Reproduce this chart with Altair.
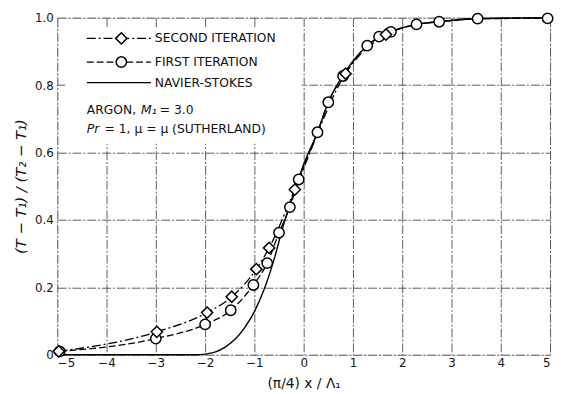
import altair as alt
import pandas as pd

# First iteration (circles)
first_x = [-4.95, -3.0, -2.0, -1.48, -1.02, -0.74, -0.5, -0.28, -0.1, 0.28, 0.5, 0.8, 1.29, 1.53, 1.77, 2.29, 2.75, 3.53, 4.95]
first_y = [0.01, 0.048, 0.09, 0.132, 0.207, 0.272, 0.362, 0.438, 0.52, 0.66, 0.749, 0.827, 0.917, 0.944, 0.958, 0.98, 0.988, 0.997, 0.998]

# Second iteration (diamonds)
second_x = [-4.97, -2.98, -1.96, -1.46, -0.96, -0.7, -0.18, 0.85, 1.67]
second_y = [0.01, 0.068, 0.125, 0.172, 0.254, 0.317, 0.49, 0.834, 0.95]
# continuation of the second-iteration curve beyond the last diamond
second_tail_x = [2.29, 2.75, 3.53, 5.0]
second_tail_y = [0.98, 0.988, 0.997, 1.0]

# Navier-Stokes solution (solid curve)
ns_x = [-5.0, -2.2, -2.0, -1.8, -1.6, -1.4, -1.2, -1.0, -0.8, -0.6, -0.4, -0.2, 0.0, 0.28, 0.5, 0.8, 1.29, 1.77, 2.29, 2.75, 3.5, 5.0]
ns_y = [0.0, 0.0, 0.002, 0.008, 0.022, 0.045, 0.08, 0.128, 0.195, 0.283, 0.39, 0.48, 0.565, 0.66, 0.749, 0.83, 0.917, 0.958, 0.98, 0.988, 0.997, 1.0]

x_ticks = [-5, -4, -3, -2, -1, 0, 1, 2, 3, 4, 5]
y_ticks = [0, 0.2, 0.4, 0.6, 0.8, 1.0]

FONT = "DejaVu Sans"
FS = 12.5
W, H = 500, 342

first_df = pd.DataFrame({"x": first_x, "y": first_y})
second_df = pd.DataFrame({"x": second_x, "y": second_y})
second_line_df = pd.DataFrame({"x": second_x + second_tail_x, "y": second_y + second_tail_y})
ns_df = pd.DataFrame({"x": ns_x, "y": ns_y})

xscale = alt.Scale(domain=[-5, 5], nice=False, zero=False)
yscale = alt.Scale(domain=[0, 1], nice=False)

xaxis = alt.Axis(values=x_ticks, format="d", title="(π/4)  x / Λ₁", grid=True,
                 gridColor="#333", gridDash=[9, 2, 2, 2], gridWidth=0.8,
                 ticks=False, domain=False, labelPadding=3, titlePadding=8,
                 labelFont=FONT, labelFontSize=12, labelColor="#111",
                 titleFont=FONT, titleFontSize=14, titleFontWeight="normal", titleColor="#111")
yaxis = alt.Axis(values=y_ticks, title="(T − T₁) / (T₂ − T₁)", grid=True,
                 labelExpr="datum.value == 0 ? '0' : format(datum.value, '.1f')",
                 gridColor="#333", gridDash=[9, 2, 2, 2], gridWidth=0.8,
                 ticks=False, domain=False, labelPadding=4, titlePadding=6,
                 labelFont=FONT, labelFontSize=12, labelColor="#111",
                 titleFont=FONT, titleFontSize=15, titleFontWeight="normal",
                 titleFontStyle="italic", titleColor="#111")

X = alt.X("x:Q", scale=xscale, axis=xaxis)
Y = alt.Y("y:Q", scale=yscale, axis=yaxis)

# white legend box hiding the grid
box = alt.Chart(pd.DataFrame({"a": [0]})).mark_rect(fill="white").encode(
    x=alt.value(8), x2=alt.value(248), y=alt.value(11), y2=alt.value(128))

ns_line = alt.Chart(ns_df).mark_line(color="black", strokeWidth=1.4, interpolate="monotone").encode(x=X, y=Y)
first_line = alt.Chart(first_df).mark_line(color="black", strokeWidth=1.3, strokeDash=[7, 3],
                                          interpolate="monotone").encode(x=X, y=Y)
second_line = alt.Chart(second_line_df).mark_line(color="black", strokeWidth=1.3, strokeDash=[9, 3, 2, 3],
                                                  interpolate="monotone").encode(x=X, y=Y)
first_pts = alt.Chart(first_df).mark_point(shape="circle", size=110, filled=False, fill="white",
                                           fillOpacity=1, stroke="black", strokeWidth=1.5, opacity=1).encode(x=X, y=Y)
second_pts = alt.Chart(second_df).mark_point(shape="diamond", size=130, filled=False, fill="white",
                                             fillOpacity=1, stroke="black", strokeWidth=1.5, opacity=1).encode(x=X, y=Y)

one = pd.DataFrame({"a": [0]})

def rule(y, dash):
    kw = {"color": "black", "strokeWidth": 1.3}
    if dash:
        kw["strokeDash"] = dash
    return alt.Chart(one).mark_rule(**kw).encode(x=alt.value(30), x2=alt.value(95), y=alt.value(y))

def text(x, y, s, style="normal", size=FS):
    return alt.Chart(one).mark_text(align="left", baseline="middle", font=FONT, fontSize=size,
                                    fontStyle=style, color="#111").encode(
        x=alt.value(x), y=alt.value(y), text=alt.value(s))

leg = [
    rule(21, [9, 3, 2, 3]),
    alt.Chart(one).mark_point(shape="diamond", size=130, fill="white", fillOpacity=1, stroke="black",
                              strokeWidth=1.5, opacity=1).encode(x=alt.value(65), y=alt.value(21)),
    text(99, 21, "SECOND ITERATION"),
    rule(45, [7, 3]),
    alt.Chart(one).mark_point(shape="circle", size=110, fill="white", fillOpacity=1, stroke="black",
                              strokeWidth=1.5, opacity=1).encode(x=alt.value(65), y=alt.value(45)),
    text(99, 45, "FIRST ITERATION"),
    rule(66, None),
    text(99, 66, "NAVIER-STOKES"),
    text(30, 94, "ARGON,"),
    text(85, 94, "M₁", style="italic"),
    text(104, 94, "= 3.0"),
    text(30, 113, "Pr", style="italic"),
    text(48, 113, "= 1,   μ = μ (SUTHERLAND)"),
]

chart = alt.layer(box, ns_line, first_line, second_line, first_pts, second_pts, *leg).properties(
    width=W, height=H,
    autosize=alt.AutoSizeParams(type="none"),
    padding={"left": 50, "top": 7, "right": 4, "bottom": 36},
).configure_view(stroke="black", strokeWidth=1.2).configure(background="white")

chart.save("out.html", embed_options={"renderer": "svg", "actions": False})
